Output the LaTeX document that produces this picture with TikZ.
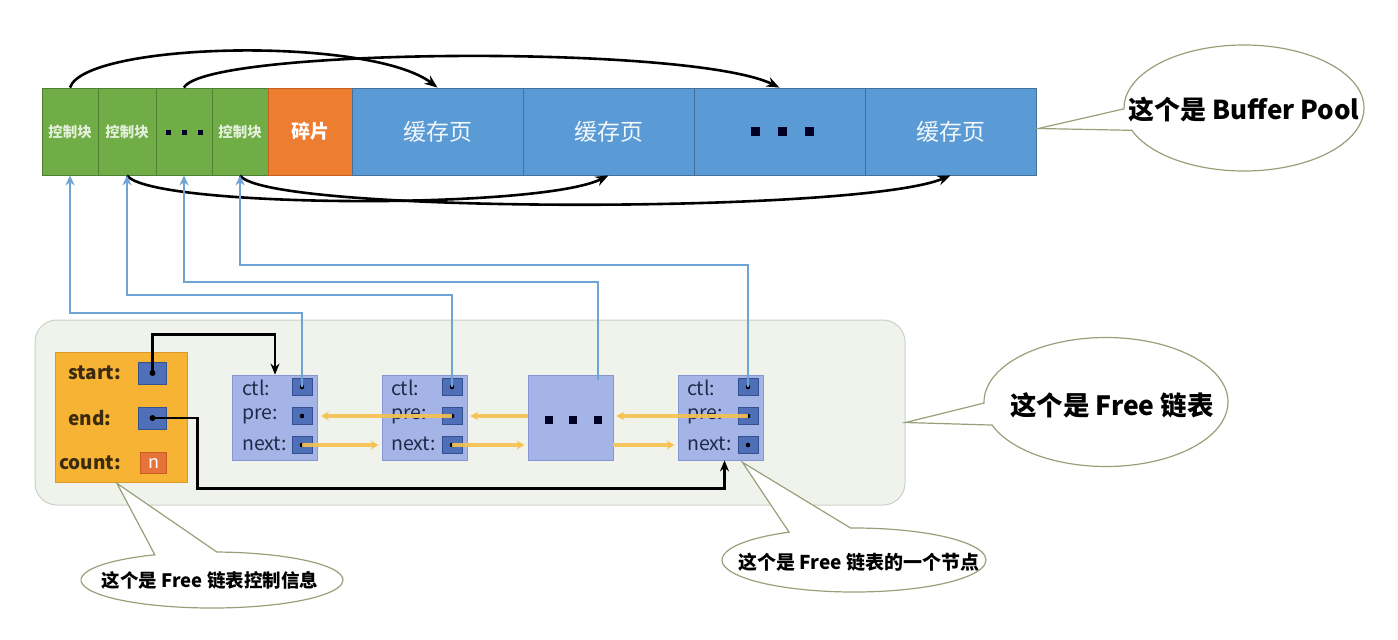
\documentclass[tikz,border=0pt]{standalone}
\usepackage{fontspec}
\setmainfont{Noto Sans CJK SC}
\usetikzlibrary{arrows.meta,shapes.callouts,calc}
\definecolor{cgreen}{HTML}{70AD47}
\definecolor{cgreenD}{HTML}{4E7F32}
\definecolor{corange}{HTML}{ED7D31}
\definecolor{corangeD}{HTML}{C65F1E}
\definecolor{cblue}{HTML}{5B9BD5}
\definecolor{cblueD}{HTML}{41719C}
\definecolor{ctltext}{HTML}{E2EFD9}
\definecolor{panel}{HTML}{EFF3EC}
\definecolor{panelD}{HTML}{CAD2C5}
\definecolor{info}{HTML}{F7B334}
\definecolor{infoD}{HTML}{D99A2B}
\definecolor{infotext}{HTML}{3A2A0E}
\definecolor{nodeb}{HTML}{A4B4E6}
\definecolor{nodebD}{HTML}{8797D3}
\definecolor{slotc}{HTML}{4F70B8}
\definecolor{slotD}{HTML}{34508F}
\definecolor{linkc}{HTML}{6FA5D6}
\definecolor{ylink}{HTML}{F6C24E}
\definecolor{cntc}{HTML}{E8733A}
\definecolor{bubbleD}{HTML}{98A07A}
\definecolor{nodetext}{HTML}{1F2A4A}
\begin{document}
\begin{tikzpicture}[x=1pt,y=-1pt,
  cellbase/.style={draw, inner sep=0, minimum height=87, line width=0.8},
  ctrlcell/.style={cellbase, fill=cgreen, draw=cgreenD, text=ctltext, font={\bfseries\fontsize{14.5}{16}\selectfont}},
  fragcell/.style={cellbase, fill=corange, draw=corangeD, text=white, font={\bfseries\fontsize{19}{21}\selectfont}},
  pagecell/.style={cellbase, fill=cblue, draw=cblueD, text=white!92!cblue, minimum width=171, font={\fontsize{23}{25}\selectfont}},
  sqdot/.style={fill=black!85!blue, inner sep=0, minimum size=#1},
  arc/.style={line width=2.6, -{Stealth[length=13pt,width=10pt]}},
  bl/.style={draw=linkc, line width=2, -{Stealth[length=10pt,width=9pt]}},
  yl/.style={draw=ylink, line width=3.2, opacity=0.9, -{Stealth[length=8pt,width=9pt]}},
  blk/.style={line width=2.6, -{Stealth[length=11pt,width=9pt]}},
  lnode/.style={draw=nodebD, fill=nodeb, minimum width=85, minimum height=85, inner sep=0, line width=0.8},
  slot/.style={draw=slotD, fill=slotc, minimum width=20, minimum height=17, inner sep=0, line width=0.8,
    path picture={\fill[black] (path picture bounding box.center) circle (2.3);}},
  islot/.style={draw=slotD, fill=slotc, minimum width=28, minimum height=22, inner sep=0, line width=0.8,
    path picture={\fill[black] (path picture bounding box.center) circle (3);}},
  ntext/.style={anchor=west, text=nodetext, inner sep=0, font={\fontsize{19.5}{21}\selectfont}},
  itext/.style={anchor=west, text=infotext, inner sep=0, font={\bfseries\fontsize{19}{21}\selectfont}},
  bubble/.style={ellipse callout, draw=bubbleD, fill=white, line width=1.2, inner sep=0},
  btext/.style={inner sep=0, text=black, font={\bfseries\fontsize{#1}{#1}\selectfont}}
]
\useasboundingbox (0,0) rectangle (1398,640);
\fill[white] (0,0) rectangle (1398,640);

% ---------------- Buffer Pool bar ----------------
\node[ctrlcell, minimum width=56] (cb1) at (70,131.5) {控制块};
\node[ctrlcell, minimum width=58] (cb2) at (127,131.5) {控制块};
\node[ctrlcell, minimum width=56] (cb3) at (184,131.5) {};
\node[ctrlcell, minimum width=56] (cb4) at (240,131.5) {控制块};
\node[fragcell, minimum width=84] (frag) at (310,131.5) {碎片};
\node[pagecell] (pg1) at (437.5,131.5) {缓存页};
\node[pagecell] (pg2) at (608.5,131.5) {缓存页};
\node[pagecell] (pg3) at (779.5,131.5) {};
\node[pagecell] (pg4) at (950.5,131.5) {缓存页};
\node[sqdot=5] (cd1) at (168,132) {};
\node[sqdot=5] (cd2) at (184,132) {};
\node[sqdot=5] (cd3) at (200,132) {};
\node[sqdot=9] (pd1) at (755,131) {};
\node[sqdot=9] (pd2) at (782,131) {};
\node[sqdot=9] (pd3) at (809,131) {};

% arcs from control blocks to pages
\draw[arc] (cb1.north) .. controls (85,42) and (370,36) .. (pg1.north);
\draw[arc] (cb3.north) .. controls (205,48) and (690,44) .. (pg3.north);
\draw[arc] (cb2.south) .. controls (150,208) and (540,210) .. (pg2.south);
\draw[arc] (cb4.south) .. controls (265,214) and (860,214) .. (pg4.south);

% ---------------- Free list panel ----------------
\node[draw=panelD, fill=panel, rounded corners=22, minimum width=870, minimum height=185, line width=1] (panel) at (470,412.5) {};

% control info box
\node[draw=infoD, fill=info, minimum width=132, minimum height=130, inner sep=0, line width=0.8] (info) at (121,417) {};
\node[itext] (tstart) at (68,373) {start:};
\node[itext] (tend) at (68,418) {end:};
\node[itext] (tcount) at (59,463) {count:};
\node[islot] (ss) at (152.5,373) {};
\node[islot] (es) at (152.5,418) {};
\node[draw=corangeD, fill=cntc, minimum width=26, minimum height=21, inner sep=0, text=white, font={\fontsize{18}{20}\selectfont}] (cs) at (153.5,463) {n};

% list nodes
\node[lnode] (n1) at (275,417.5) {};
\node[lnode] (n2) at (424.5,417.5) {};
\node[lnode] (n3) at (570.5,417.5) {};
\node[lnode] (n4) at (720.5,417.5) {};
\node[sqdot=8] (ed1) at (549,420) {};
\node[sqdot=8] (ed2) at (573,420) {};
\node[sqdot=8] (ed3) at (598,420) {};

\foreach \n/\x/\s in {n1/242/302, n2/391/452, n4/687/748}{
  \node[ntext] at (\x,388) {ctl:};
  \node[ntext] at (\x,416) {pre:};
  \node[ntext] at (\x,444) {next:};
  \node[slot] (\n c) at (\s,387) {};
  \node[slot] (\n p) at (\s,416) {};
  \node[slot] (\n n) at (\s,445) {};
}

% yellow pre / next links
\draw[yl] (n2p.center) -- ($(n1.east |- n2p)+(3,0)$);
\draw[yl] (n3.west |- n2p) -- ($(n2.east |- n2p)+(3,0)$);
\draw[yl] (n4p.center) -- ($(n3.east |- n4p)+(3,0)$);
\draw[yl] (n1n.center) -- ($(n2.west |- n1n)+(-3,0)$);
\draw[yl] (n2n.center) -- ($(n3.west |- n2n)+(-3,0)$);
\draw[yl] (n3.east |- n4n) -- ($(n4.west |- n4n)+(-3,0)$);

% black start / end pointers
\draw[blk] (ss.center) |- ($(n1.north)+(0,-40)$) -- (n1.north);
\coordinate (ebend) at ($(es.center)+(45,0)$);
\draw[blk] (es.center) -- (ebend) |- ($(n4.south)+(4,28)$) -- ($(n4.south)+(4,0)$);

% blue ctl links to control blocks
\coordinate (n3top) at ($(n3.north)+(27.5,5)$);
\draw[bl] (n1c.center) -- (n1c.center |- 0,313) -| (cb1.south);
\draw[bl] (n2c.center) -- (n2c.center |- 0,295) -| (cb2.south);
\draw[bl] (n3top) -- (n3top |- 0,282) -| (cb3.south);
\draw[bl] (n4c.center) -- (n4c.center |- 0,265) -| (cb4.south);

% ---------------- callouts ----------------
\node[bubble, minimum width=240, minimum height=126, callout pointer arc=20,
  callout absolute pointer={($(pg4.east)+(2,-3)$)}] (b1) at (1244,108) {};
\node[btext=26] (b1t) at (1244,110) {这个是 Buffer Pool};
\node[bubble, minimum width=244, minimum height=129, callout pointer arc=20,
  callout absolute pointer={($(panel.east)+(0,10)$)}] (b2) at (1106,402) {};
\node[btext=26.5] (b2t) at (1112,405) {这个是 Free 链表};
\node[bubble, minimum width=262, minimum height=56, callout pointer arc=28,
  callout absolute pointer={($(info.south)+(-4,1)$)}] (b3) at (212,580) {};
\node[btext=18.5] (b3t) at (210,580) {这个是 Free 链表控制信息};
\node[bubble, minimum width=264, minimum height=64, callout pointer arc=28,
  callout absolute pointer={($(n4.south)+(22,2)$)}] (b4) at (854,560) {};
\node[btext=19] (b4t) at (859,562) {这个是 Free 链表的一个节点};
\end{tikzpicture}
\end{document}
